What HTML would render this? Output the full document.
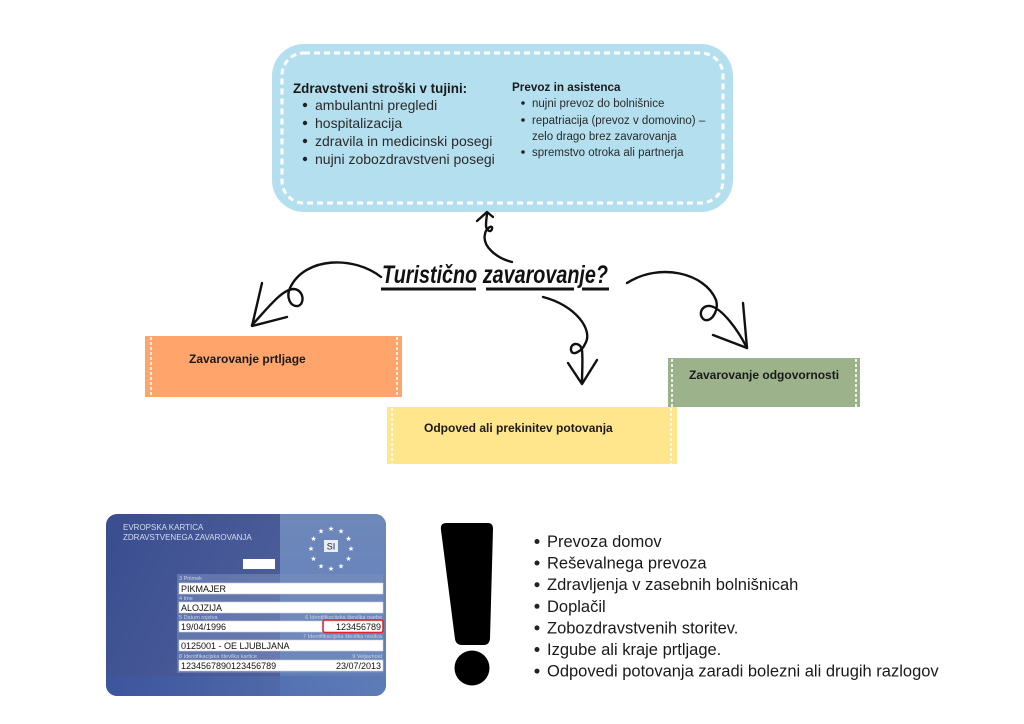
<!DOCTYPE html>
<html>
<head>
<meta charset="utf-8">
<style>
html,body{margin:0;padding:0;background:#fff;}
#root{position:relative;width:1024px;height:724px;overflow:hidden;background:#fff;}
svg{position:absolute;left:0;top:0;}
text{font-family:"Liberation Sans",sans-serif;}
</style>
</head>
<body>
<div id="root">
<svg width="1024" height="724" viewBox="0 0 1024 724" xmlns="http://www.w3.org/2000/svg">
  <defs>
    <linearGradient id="cardL" x1="0" y1="0" x2="1" y2="0.3">
      <stop offset="0" stop-color="#394D8F"/>
      <stop offset="0.6" stop-color="#4A5B98"/>
      <stop offset="1" stop-color="#5C6399"/>
    </linearGradient>
    <linearGradient id="cardR" x1="0" y1="0" x2="0" y2="1">
      <stop offset="0" stop-color="#6E88BB"/>
      <stop offset="1" stop-color="#5F7DB6"/>
    </linearGradient>
    <linearGradient id="cardB" x1="0" y1="0" x2="1" y2="0">
      <stop offset="0" stop-color="#3B56A0"/>
      <stop offset="1" stop-color="#5B7BB8"/>
    </linearGradient>
    <clipPath id="cardClip"><rect x="106" y="514" width="280" height="182" rx="11"/></clipPath>
  </defs>

  <!-- Blue box -->
  <rect x="272" y="44" width="461" height="168" rx="32" fill="#B4DFEF"/>
  <rect x="282" y="53" width="441" height="150" rx="22" fill="none" stroke="#fff" stroke-width="3" stroke-dasharray="6 4"/>

  <text x="293" y="93" font-size="13.4" font-weight="bold" fill="#1a1a1a">Zdravstveni stroški v tujini:</text>
  <g font-size="14" fill="#2a2a2a">
    <circle cx="305" cy="105" r="2.2" fill="#222"/><text x="315" y="110">ambulantni pregledi</text>
    <circle cx="305" cy="123" r="2.2" fill="#222"/><text x="315" y="128">hospitalizacija</text>
    <circle cx="305" cy="141" r="2.2" fill="#222"/><text x="315" y="146">zdravila in medicinski posegi</text>
    <circle cx="305" cy="159" r="2.2" fill="#222"/><text x="315" y="164">nujni zobozdravstveni posegi</text>
  </g>
  <text x="512" y="91" font-size="11.7" font-weight="bold" fill="#1a1a1a">Prevoz in asistenca</text>
  <g font-size="11.5" fill="#2a2a2a">
    <circle cx="523" cy="103" r="1.8" fill="#222"/><text x="532" y="107">nujni prevoz do bolnišnice</text>
    <circle cx="523" cy="120" r="1.8" fill="#222"/><text x="532" y="124">repatriacija (prevoz v domovino) –</text>
    <text x="532" y="140">zelo drago brez zavarovanja</text>
    <circle cx="523" cy="152" r="1.8" fill="#222"/><text x="532" y="156">spremstvo otroka ali partnerja</text>
  </g>

  <!-- Title -->
  <text x="382" y="283" font-family="Liberation Serif, serif" font-style="italic" font-weight="bold" font-size="25" fill="#111" textLength="226" lengthAdjust="spacingAndGlyphs">Turistično zavarovanje?</text>
  <g stroke="#111" stroke-width="3" stroke-linecap="butt">
    <line x1="381" y1="289" x2="476" y2="289"/>
    <line x1="486" y1="289" x2="574" y2="289"/>
    <line x1="582" y1="289" x2="609" y2="289"/>
  </g>

  <!-- Arrows -->
  <g fill="none" stroke="#111" stroke-width="2.4" stroke-linecap="round" stroke-linejoin="round">
    <!-- left -->
    <path d="M381,277 C355,256 305,256 290,288 C286,297 290,307 298,306 C305,304 304,290 294,289 C282,289 268,308 252,325"/>
    <path d="M262,283 L252,326 L287,317"/>
    <!-- top -->
    <path d="M512,262 C496,258 482,246 485,234 C486,228 493,224 492,229 C491,233 486,231 486,225 C486,220 487,216 487,213"/>
    <path d="M477,221 L487,212 L493,217"/>
    <!-- middle -->
    <path d="M543,297 C575,305 594,330 585,344 C582,351 572,357 571,350 C570,343 580,341 582,350 C583,360 582,372 582,383"/>
    <path d="M568,363 L582,384 L597,360"/>
    <!-- right -->
    <path d="M627,283 C660,262 705,273 716,300 C719,310 712,322 705,320 C698,317 700,305 710,306 C722,308 738,330 747,348"/>
    <path d="M743,303 L747,348 L713,335"/>
  </g>

  <!-- Orange box -->
  <rect x="145" y="336" width="257" height="61" fill="#FFA56B"/>
  <g stroke="#fff" stroke-width="1.6" stroke-dasharray="3 2">
    <line x1="151" y1="337" x2="151" y2="397"/>
    <line x1="397" y1="337" x2="397" y2="397"/>
  </g>
  <text x="189" y="363" font-size="12" font-weight="bold" fill="#1a1a1a">Zavarovanje prtljage</text>

  <!-- Green box -->
  <rect x="668" y="358" width="192" height="49" fill="#9BB28A"/>
  <g stroke="#fff" stroke-width="1.6" stroke-dasharray="3 2">
    <line x1="672" y1="359" x2="672" y2="407"/>
    <line x1="856" y1="359" x2="856" y2="407"/>
  </g>
  <text x="689" y="379" font-size="12" font-weight="bold" fill="#1a1a1a">Zavarovanje odgovornosti</text>

  <!-- Yellow box -->
  <rect x="387" y="407" width="290" height="57" fill="#FFE68C"/>
  <g stroke="#fff" stroke-width="1.6" stroke-dasharray="3 2">
    <line x1="392" y1="408" x2="392" y2="464"/>
    <line x1="671" y1="408" x2="671" y2="464"/>
  </g>
  <text x="424" y="432" font-size="12" font-weight="bold" fill="#1a1a1a">Odpoved ali prekinitev potovanja</text>

  <!-- Card -->
  <g clip-path="url(#cardClip)">
    <rect x="106" y="514" width="280" height="182" fill="url(#cardL)"/>
    <rect x="280" y="514" width="106" height="182" fill="url(#cardR)"/>
    <rect x="106" y="676" width="280" height="20" fill="url(#cardB)" opacity="0.7"/>
  </g>
  <text x="123" y="530" font-size="8" fill="#D6DDF0">EVROPSKA KARTICA</text>
  <text x="123" y="540" font-size="8" fill="#D6DDF0">ZDRAVSTVENEGA ZAVAROVANJA</text>
  <rect x="243" y="559" width="32" height="10" fill="#fff"/>
  <g font-family="DejaVu Sans, sans-serif" font-size="7" fill="#fff" text-anchor="middle">
    <text x="331" y="531">★</text>
    <text x="341" y="533.5">★</text>
    <text x="348.5" y="541">★</text>
    <text x="351" y="551">★</text>
    <text x="348.5" y="561">★</text>
    <text x="341" y="568.5">★</text>
    <text x="331" y="571">★</text>
    <text x="321" y="568.5">★</text>
    <text x="313.5" y="561">★</text>
    <text x="311" y="551">★</text>
    <text x="313.5" y="541">★</text>
    <text x="321" y="533.5">★</text>
  </g>
  <rect x="324" y="540" width="14" height="12" fill="#E8ECF6"/>
  <text x="331" y="549.5" font-family="Liberation Serif, serif" font-size="9" fill="#223" text-anchor="middle">SI</text>

  <rect x="177" y="574" width="206" height="99" fill="#7A90C0" opacity="0.55"/>
  <g font-size="5.5" fill="#C8D2EA">
    <text x="179" y="580">3 Priimek</text>
    <text x="179" y="600">4 Ime</text>
    <text x="179" y="619">5 Datum rojstva</text>
    <text x="382" y="619" text-anchor="end">6 Identifikacijska številka osebe</text>
    <text x="382" y="638" text-anchor="end">7 Identifikacijska številka nosilca</text>
    <text x="179" y="658">8 Identifikacijska številka kartice</text>
    <text x="382" y="658" text-anchor="end">9 Veljavnost</text>
  </g>
  <g fill="#fff" stroke="#C9CFDC" stroke-width="0.6">
    <rect x="179" y="583" width="204" height="11"/>
    <rect x="179" y="602" width="204" height="11"/>
    <rect x="179" y="621" width="204" height="11"/>
    <rect x="179" y="640" width="204" height="11"/>
    <rect x="179" y="660" width="204" height="11"/>
  </g>
  <rect x="323" y="620" width="60" height="12.5" rx="2" fill="none" stroke="#E0262A" stroke-width="1.6"/>
  <g font-size="9" fill="#111">
    <text x="181" y="592">PIKMAJER</text>
    <text x="181" y="611">ALOJZIJA</text>
    <text x="181" y="630">19/04/1996</text>
    <text x="381" y="630" text-anchor="end">123456789</text>
    <text x="181" y="649">0125001 - OE LJUBLJANA</text>
    <text x="181" y="669">1234567890123456789</text>
    <text x="381" y="669" text-anchor="end">23/07/2013</text>
  </g>

  <!-- Exclamation -->
  <path d="M446,523 L488,523 Q493,523 493,529 L490,639 Q489,645 484,645 L462,645 Q456,645 455,639 L441,530 Q440,523 446,523 Z" fill="#000"/>
  <circle cx="472" cy="668" r="17.5" fill="#000"/>

  <!-- Bottom list -->
  <g font-size="16.5" fill="#1a1a1a">
    <circle cx="537" cy="541.5" r="2.5" fill="#222"/><text x="547" y="547">Prevoza domov</text>
    <circle cx="537" cy="563" r="2.5" fill="#222"/><text x="547" y="568.6">Reševalnega prevoza</text>
    <circle cx="537" cy="584.7" r="2.5" fill="#222"/><text x="547" y="590.2">Zdravljenja v zasebnih bolnišnicah</text>
    <circle cx="537" cy="606.3" r="2.5" fill="#222"/><text x="547" y="611.8">Doplačil</text>
    <circle cx="537" cy="627.9" r="2.5" fill="#222"/><text x="547" y="633.4">Zobozdravstvenih storitev.</text>
    <circle cx="537" cy="649.5" r="2.5" fill="#222"/><text x="547" y="655">Izgube ali kraje prtljage.</text>
    <circle cx="537" cy="671.1" r="2.5" fill="#222"/><text x="547" y="676.6">Odpovedi potovanja zaradi bolezni ali drugih razlogov</text>
  </g>
</svg>
</div>
</body>
</html>
